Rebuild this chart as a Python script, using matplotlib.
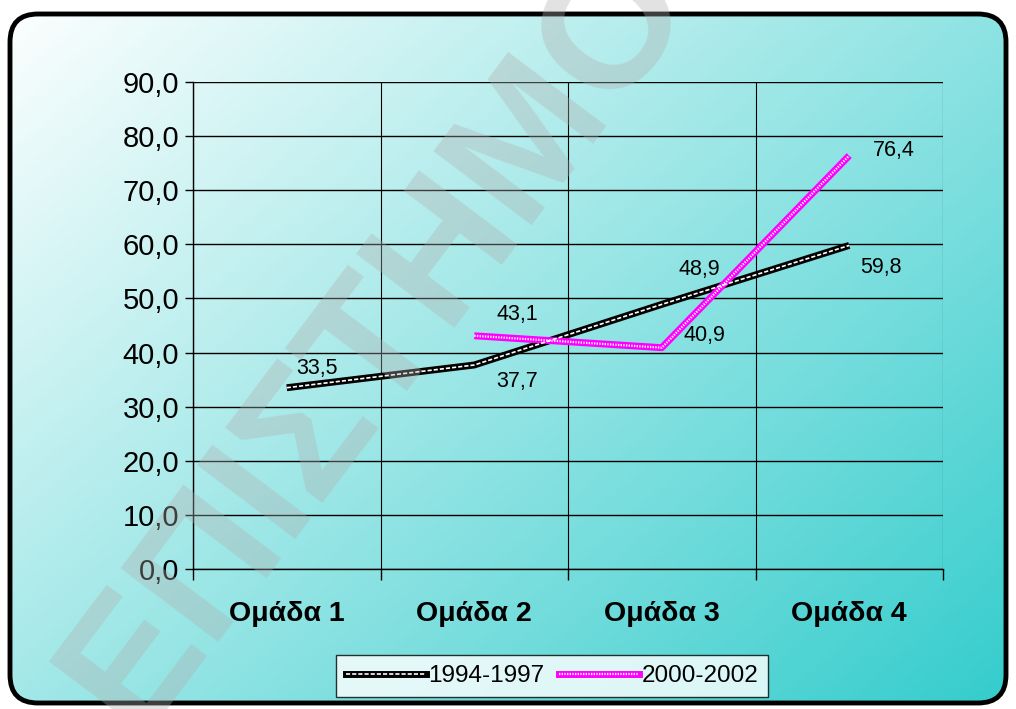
import numpy as np
import matplotlib.pyplot as plt
from matplotlib.patches import FancyBboxPatch
from matplotlib.lines import Line2D

categories = ["Ομάδα 1", "Ομάδα 2", "Ομάδα 3", "Ομάδα 4"]
series_a = [33.5, 37.7, 48.9, 59.8]
series_b = [np.nan, 43.1, 40.9, 76.4]
label_a = "1994-1997"
label_b = "2000-2002"
yticks = np.arange(0, 91, 10)

plt.rcParams['font.family'] = ['Liberation Sans', 'DejaVu Sans']

W, H = 1016, 709
fig = plt.figure(figsize=(W / 100, H / 100), dpi=100)

# background panel with diagonal gradient and rounded border
bg = fig.add_axes([0, 0, 1, 1], zorder=0)
bg.set_xlim(0, W)
bg.set_ylim(H, 0)
bg.axis("off")
xx, yy = np.meshgrid(np.linspace(0, 1, 400), np.linspace(0, 1, 300))
t = np.clip((xx * 0.55 + yy * 0.45), 0, 1)
c0 = np.array([1.0, 1.0, 1.0])
c1 = np.array([0.20, 0.80, 0.80])
img = c0 + (c1 - c0) * t[..., None]
im = bg.imshow(img, extent=[0, W, H, 0], aspect="auto", interpolation="bilinear")
box = FancyBboxPatch((10, 14), W - 20, H - 20, boxstyle="round,pad=0,rounding_size=28",
                     fc="none", ec="black", lw=3.5, zorder=3)
bg.add_patch(box)
im.set_clip_path(box)

ax = fig.add_axes([193 / W, 1 - 569 / H, 750 / W, 487 / H], zorder=1)
ax.set_facecolor("none")
x = np.arange(len(categories))

ax.plot(x, series_a, color="black", lw=5, solid_capstyle="butt", zorder=3)
ax.plot(x, series_a, color="white", lw=1.2, dashes=(2.5, 1.2), zorder=4)
ax.plot(x, series_b, color="#ff00ff", lw=5, solid_capstyle="butt", zorder=3)
ax.plot(x, series_b, color="white", lw=1.6, dashes=(0.6, 0.6), zorder=4)

# data labels
offs_a = [(22, 14), (31, -12), (27, 25), (23, -16)]
offs_b = [None, (31, 15), (31, 9), (32, 4)]
for i, v in enumerate(series_a):
    ax.annotate(f"{v:.1f}".replace(".", ","), (x[i], v), xytext=offs_a[i],
                textcoords="offset points", ha="center", va="center", fontsize=15.5)
for i, v in enumerate(series_b):
    if offs_b[i] is None:
        continue
    ax.annotate(f"{v:.1f}".replace(".", ","), (x[i], v), xytext=offs_b[i],
                textcoords="offset points", ha="center", va="center", fontsize=15.5)

ax.set_xlim(-0.5, 3.5)
ax.set_ylim(0, 90)
ax.set_yticks(yticks)
ax.set_yticklabels([f"{v:.1f}".replace(".", ",") for v in yticks], fontsize=21)
ax.set_xticks(x)
ax.set_xticklabels(categories, fontsize=20.5, fontweight="bold")
ax.set_xticks([-0.5, 0.5, 1.5, 2.5, 3.5], minor=True)
ax.tick_params(axis="x", which="major", length=0, pad=23)
ax.tick_params(axis="x", which="minor", length=8, width=1, direction="out")
ax.tick_params(axis="y", length=6, width=1, pad=4)
ax.grid(axis="y", color="black", lw=1)
ax.grid(axis="x", which="minor", color="black", lw=0.8)
for s in ["top", "right"]:
    ax.spines[s].set_visible(False)
ax.spines["left"].set_linewidth(1)
ax.spines["bottom"].set_linewidth(1)

# legend
h_a = (Line2D([], [], color="black", lw=5), Line2D([], [], color="white", lw=1.2, dashes=(2.5, 1.2)))
h_b = (Line2D([], [], color="#ff00ff", lw=5), Line2D([], [], color="white", lw=1.6, dashes=(0.6, 0.6)))
leg = fig.legend([h_a, h_b], [label_a, label_b], loc="center", bbox_to_anchor=(552 / W, 1 - 676 / H),
                 ncol=2, fontsize=17.5, frameon=True, fancybox=False, edgecolor="black",
                 handlelength=3.3, handletextpad=0.1, columnspacing=0.6, borderpad=0.4)
leg.get_frame().set_linewidth(1)
leg.set_zorder(5)

# watermark
wm = fig.add_axes([0, 0, 1, 1], zorder=10)
wm.set_xlim(0, W)
wm.set_ylim(H, 0)
wm.axis("off")
wm.text(136, 736, "ΕΠΙΣΤΗΜΟ", rotation=53, rotation_mode="anchor", ha="left", va="baseline",
        fontsize=128, fontweight="bold", color="#b0b0b0", alpha=0.36, clip_on=True)

fig.savefig("out.png", dpi=100)
